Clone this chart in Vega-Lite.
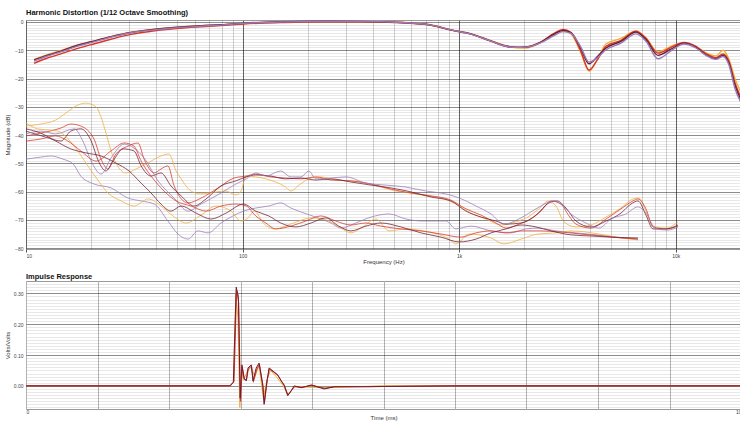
{
"$schema": "https://vega.github.io/schema/vega-lite/v6.json",
"background": "white",
"padding": {"left": 3, "top": 8, "right": 0, "bottom": 0},
"config": {
 "font": "Liberation Sans",
 "view": {"stroke": "#999", "strokeWidth": 1},
 "axis": {"labelFontSize": 5, "titleFontSize": 6, "labelColor": "#444", "titleColor": "#333", "titleFontWeight": "normal", "domain": false, "ticks": false, "labelOverlap": false},
 "axisY": {"minExtent": 14, "maxExtent": 14, "labelPadding": 3, "titlePadding": 2},
 "axisX": {"labelPadding": 1, "titlePadding": 0},
 "title": {"fontSize": 7.5, "anchor": "start", "frame": "group", "fontWeight": "bold", "offset": 2, "color": "#111"},
 "concat": {"spacing": 7}
},
"datasets": {
"fr": [
{"m":"M1","f":10.9,"d":-13.2},{"m":"M1","f":12.3,"d":-11.8},{"m":"M1","f":14.5,"d":-10.1},{"m":"M1","f":17.0,"d":-8.3},{"m":"M1","f":20.0,"d":-7.0},{"m":"M1","f":24.7,"d":-5.2},{"m":"M1","f":30.5,"d":-3.6},{"m":"M1","f":37.8,"d":-2.7},{"m":"M1","f":46.7,"d":-2.0},{"m":"M1","f":64.3,"d":-1.3},{"m":"M1","f":79.5,"d":-1.0},{"m":"M1","f":101,"d":-0.5},{"m":"M1","f":150,"d":0},{"m":"M1","f":230,"d":0.2},{"m":"M1","f":352,"d":0.2},{"m":"M1","f":539,"d":-0.1},{"m":"M1","f":741,"d":-1.0},{"m":"M1","f":916,"d":-2.7},{"m":"M1","f":1133,"d":-4.1},{"m":"M1","f":1402,"d":-6.6},{"m":"M1","f":1645,"d":-8.4},{"m":"M1","f":1829,"d":-9.1},{"m":"M1","f":2034,"d":-9.2},{"m":"M1","f":2386,"d":-7.2},{"m":"M1","f":2740,"d":-4.4},{"m":"M1","f":3015,"d":-3.0},{"m":"M1","f":3282,"d":-4.2},{"m":"M1","f":3650,"d":-11.0},{"m":"M1","f":3974,"d":-17.4},{"m":"M1","f":4326,"d":-13.5},{"m":"M1","f":4761,"d":-7.8},{"m":"M1","f":5583,"d":-5.8},{"m":"M1","f":6548,"d":-3.3},{"m":"M1","f":7282,"d":-5.6},{"m":"M1","f":8274,"d":-10.6},{"m":"M1","f":9500,"d":-8.6},{"m":"M1","f":10906,"d":-7.3},{"m":"M1","f":12391,"d":-8.7},{"m":"M1","f":13780,"d":-10.9},{"m":"M1","f":15325,"d":-12.0},{"m":"M1","f":16510,"d":-10.0},{"m":"M1","f":17595,"d":-13.2},{"m":"M1","f":18753,"d":-20.0},{"m":"M1","f":19988,"d":-25.0},
{"m":"M2","f":10.9,"d":-14.6},{"m":"M2","f":12.3,"d":-13.0},{"m":"M2","f":14.5,"d":-11.3},{"m":"M2","f":17.0,"d":-9.5},{"m":"M2","f":20.0,"d":-8.0},{"m":"M2","f":24.7,"d":-6.1},{"m":"M2","f":30.5,"d":-4.4},{"m":"M2","f":37.8,"d":-3.3},{"m":"M2","f":46.7,"d":-2.5},{"m":"M2","f":64.3,"d":-1.7},{"m":"M2","f":79.5,"d":-1.3},{"m":"M2","f":101,"d":-0.7},{"m":"M2","f":150,"d":-0.2},{"m":"M2","f":230,"d":0.1},{"m":"M2","f":352,"d":0.1},{"m":"M2","f":539,"d":-0.3},{"m":"M2","f":741,"d":-1.2},{"m":"M2","f":916,"d":-2.9},{"m":"M2","f":1133,"d":-4.3},{"m":"M2","f":1402,"d":-6.7},{"m":"M2","f":1645,"d":-8.5},{"m":"M2","f":1829,"d":-8.9},{"m":"M2","f":2034,"d":-8.8},{"m":"M2","f":2386,"d":-7.0},{"m":"M2","f":2740,"d":-4.0},{"m":"M2","f":3015,"d":-2.6},{"m":"M2","f":3282,"d":-3.7},{"m":"M2","f":3650,"d":-10.5},{"m":"M2","f":3974,"d":-17.0},{"m":"M2","f":4326,"d":-13.6},{"m":"M2","f":4761,"d":-8.6},{"m":"M2","f":5583,"d":-6.5},{"m":"M2","f":6548,"d":-3.3},{"m":"M2","f":7282,"d":-5.8},{"m":"M2","f":8274,"d":-11.0},{"m":"M2","f":9500,"d":-9.0},{"m":"M2","f":10906,"d":-7.2},{"m":"M2","f":12391,"d":-8.6},{"m":"M2","f":13780,"d":-11.2},{"m":"M2","f":15325,"d":-12.6},{"m":"M2","f":16510,"d":-11.3},{"m":"M2","f":17595,"d":-14.0},{"m":"M2","f":18753,"d":-21.5},{"m":"M2","f":19988,"d":-26.8},
{"m":"M3","f":10.9,"d":-13.4},{"m":"M3","f":12.3,"d":-12.0},{"m":"M3","f":14.5,"d":-10.3},{"m":"M3","f":17.0,"d":-8.4},{"m":"M3","f":20.0,"d":-7.0},{"m":"M3","f":24.7,"d":-5.2},{"m":"M3","f":30.5,"d":-3.7},{"m":"M3","f":37.8,"d":-2.7},{"m":"M3","f":46.7,"d":-2.0},{"m":"M3","f":64.3,"d":-1.3},{"m":"M3","f":79.5,"d":-1.0},{"m":"M3","f":101,"d":-0.4},{"m":"M3","f":150,"d":0.1},{"m":"M3","f":230,"d":0.3},{"m":"M3","f":352,"d":0.2},{"m":"M3","f":539,"d":-0.2},{"m":"M3","f":741,"d":-1.1},{"m":"M3","f":916,"d":-2.8},{"m":"M3","f":1133,"d":-4.2},{"m":"M3","f":1402,"d":-6.8},{"m":"M3","f":1645,"d":-8.6},{"m":"M3","f":1829,"d":-9.0},{"m":"M3","f":2034,"d":-8.9},{"m":"M3","f":2386,"d":-7.1},{"m":"M3","f":2740,"d":-4.3},{"m":"M3","f":3015,"d":-3.0},{"m":"M3","f":3282,"d":-3.8},{"m":"M3","f":3650,"d":-9.5},{"m":"M3","f":3974,"d":-14.8},{"m":"M3","f":4326,"d":-12.4},{"m":"M3","f":4761,"d":-9.2},{"m":"M3","f":5583,"d":-6.9},{"m":"M3","f":6548,"d":-3.6},{"m":"M3","f":7282,"d":-6.2},{"m":"M3","f":8274,"d":-11.8},{"m":"M3","f":9500,"d":-9.6},{"m":"M3","f":10906,"d":-7.5},{"m":"M3","f":12391,"d":-9.0},{"m":"M3","f":13780,"d":-11.6},{"m":"M3","f":15325,"d":-13.0},{"m":"M3","f":16510,"d":-11.8},{"m":"M3","f":17595,"d":-14.5},{"m":"M3","f":18753,"d":-22.4},{"m":"M3","f":19988,"d":-27.6},
{"m":"M4","f":10.9,"d":-13.8},{"m":"M4","f":12.3,"d":-12.3},{"m":"M4","f":14.5,"d":-10.6},{"m":"M4","f":17.0,"d":-8.7},{"m":"M4","f":20.0,"d":-7.3},{"m":"M4","f":24.7,"d":-5.4},{"m":"M4","f":30.5,"d":-3.8},{"m":"M4","f":37.8,"d":-2.9},{"m":"M4","f":46.7,"d":-2.2},{"m":"M4","f":64.3,"d":-1.5},{"m":"M4","f":79.5,"d":-1.1},{"m":"M4","f":101,"d":-0.5},{"m":"M4","f":150,"d":0},{"m":"M4","f":230,"d":0.2},{"m":"M4","f":352,"d":0.2},{"m":"M4","f":539,"d":-0.2},{"m":"M4","f":741,"d":-1.1},{"m":"M4","f":916,"d":-2.8},{"m":"M4","f":1133,"d":-4.3},{"m":"M4","f":1402,"d":-6.8},{"m":"M4","f":1645,"d":-8.6},{"m":"M4","f":1829,"d":-9.0},{"m":"M4","f":2034,"d":-8.9},{"m":"M4","f":2386,"d":-7.3},{"m":"M4","f":2740,"d":-4.8},{"m":"M4","f":3015,"d":-3.4},{"m":"M4","f":3282,"d":-4.0},{"m":"M4","f":3650,"d":-9.0},{"m":"M4","f":3974,"d":-14.2},{"m":"M4","f":4326,"d":-12.8},{"m":"M4","f":4761,"d":-9.8},{"m":"M4","f":5583,"d":-7.5},{"m":"M4","f":6548,"d":-4.2},{"m":"M4","f":7282,"d":-6.8},{"m":"M4","f":8274,"d":-13.0},{"m":"M4","f":9500,"d":-10.2},{"m":"M4","f":10906,"d":-7.8},{"m":"M4","f":12391,"d":-9.2},{"m":"M4","f":13780,"d":-11.8},{"m":"M4","f":15325,"d":-13.2},{"m":"M4","f":16510,"d":-12.2},{"m":"M4","f":17595,"d":-15.2},{"m":"M4","f":18753,"d":-23.5},{"m":"M4","f":19988,"d":-28.5}
],
"hd": [
{"m":"M1","h":"H2","f":10,"d":-36.8},{"m":"M1","h":"H2","f":11.7,"d":-36.1},{"m":"M1","h":"H2","f":13.7,"d":-34.7},{"m":"M1","h":"H2","f":15.3,"d":-32.2},{"m":"M1","h":"H2","f":17.0,"d":-29.7},{"m":"M1","h":"H2","f":18.9,"d":-28.7},{"m":"M1","h":"H2","f":21.1,"d":-30.1},{"m":"M1","h":"H2","f":22.2,"d":-33.6},{"m":"M1","h":"H2","f":23.4,"d":-39.3},{"m":"M1","h":"H2","f":24.7,"d":-45.6},{"m":"M1","h":"H2","f":26.0,"d":-49.9},{"m":"M1","h":"H2","f":29.0,"d":-53.4},{"m":"M1","h":"H2","f":32.2,"d":-52.0},{"m":"M1","h":"H2","f":35.9,"d":-50.2},{"m":"M1","h":"H2","f":42.0,"d":-47.4},{"m":"M1","h":"H2","f":45.7,"d":-46.7},{"m":"M1","h":"H2","f":49.3,"d":-52.7},{"m":"M1","h":"H2","f":52.0,"d":-55.5},{"m":"M1","h":"H2","f":57.8,"d":-59.8},{"m":"M1","h":"H2","f":64.3,"d":-60.8},{"m":"M1","h":"H2","f":75.4,"d":-60.1},{"m":"M1","h":"H2","f":83.8,"d":-59.8},{"m":"M1","h":"H2","f":93.2,"d":-61.2},{"m":"M1","h":"H2","f":98.3,"d":-59.8},{"m":"M1","h":"H2","f":104,"d":-54.5},{"m":"M1","h":"H2","f":115,"d":-54.8},{"m":"M1","h":"H2","f":128,"d":-55.5},{"m":"M1","h":"H2","f":142,"d":-56.6},{"m":"M1","h":"H2","f":158,"d":-58.4},{"m":"M1","h":"H2","f":167,"d":-59.8},{"m":"M1","h":"H2","f":182,"d":-57.7},{"m":"M1","h":"H2","f":207,"d":-55.2},{"m":"M1","h":"H2","f":230,"d":-54.8},{"m":"M1","h":"H2","f":269,"d":-55.9},{"m":"M1","h":"H2","f":316,"d":-56.2},{"m":"M1","h":"H2","f":371,"d":-57.0},{"m":"M1","h":"H2","f":435,"d":-58.4},{"m":"M1","h":"H2","f":510,"d":-59.8},{"m":"M1","h":"H2","f":599,"d":-60.5},{"m":"M1","h":"H2","f":702,"d":-61.5},{"m":"M1","h":"H2","f":824,"d":-62.3},{"m":"M1","h":"H2","f":966,"d":-64.4},{"m":"M1","h":"H2","f":1133,"d":-67.6},{"m":"M1","h":"H2","f":1329,"d":-69.7},{"m":"M1","h":"H2","f":1560,"d":-71.8},{"m":"M1","h":"H2","f":1829,"d":-70.7},{"m":"M1","h":"H2","f":2145,"d":-68.3},{"m":"M1","h":"H2","f":2386,"d":-65.4},{"m":"M1","h":"H2","f":2570,"d":-63.3},{"m":"M1","h":"H2","f":2798,"d":-65.1},{"m":"M1","h":"H2","f":3047,"d":-70.7},{"m":"M1","h":"H2","f":3461,"d":-72.5},{"m":"M1","h":"H2","f":4058,"d":-71.8},{"m":"M1","h":"H2","f":4761,"d":-69.0},{"m":"M1","h":"H2","f":5583,"d":-65.8},{"m":"M1","h":"H2","f":6344,"d":-62.6},{"m":"M1","h":"H2","f":6760,"d":-62.3},{"m":"M1","h":"H2","f":7282,"d":-66.9},{"m":"M1","h":"H2","f":7850,"d":-72.2},{"m":"M1","h":"H2","f":9007,"d":-72.9},{"m":"M1","h":"H2","f":10239,"d":-70.7},
{"m":"M2","h":"H2","f":10,"d":-40.3},{"m":"M2","h":"H2","f":11.7,"d":-39.3},{"m":"M2","h":"H2","f":14.5,"d":-37.5},{"m":"M2","h":"H2","f":16.1,"d":-36.1},{"m":"M2","h":"H2","f":17.9,"d":-36.8},{"m":"M2","h":"H2","f":20.6,"d":-41.4},{"m":"M2","h":"H2","f":22.2,"d":-48.5},{"m":"M2","h":"H2","f":23.9,"d":-52.0},{"m":"M2","h":"H2","f":26.0,"d":-46.7},{"m":"M2","h":"H2","f":29.6,"d":-43.9},{"m":"M2","h":"H2","f":32.9,"d":-42.8},{"m":"M2","h":"H2","f":35.1,"d":-48.5},{"m":"M2","h":"H2","f":39.1,"d":-53.4},{"m":"M2","h":"H2","f":42.0,"d":-52.0},{"m":"M2","h":"H2","f":45.2,"d":-50.9},{"m":"M2","h":"H2","f":48.3,"d":-58.0},{"m":"M2","h":"H2","f":56.0,"d":-64.0},{"m":"M2","h":"H2","f":64.3,"d":-62.3},{"m":"M2","h":"H2","f":77.0,"d":-58.7},{"m":"M2","h":"H2","f":91.3,"d":-55.2},{"m":"M2","h":"H2","f":104,"d":-54.5},{"m":"M2","h":"H2","f":115,"d":-53.8},{"m":"M2","h":"H2","f":135,"d":-54.8},{"m":"M2","h":"H2","f":158,"d":-55.2},{"m":"M2","h":"H2","f":186,"d":-55.5},{"m":"M2","h":"H2","f":218,"d":-54.8},{"m":"M2","h":"H2","f":256,"d":-55.9},{"m":"M2","h":"H2","f":316,"d":-56.2},{"m":"M2","h":"H2","f":392,"d":-57.3},{"m":"M2","h":"H2","f":484,"d":-59.1},{"m":"M2","h":"H2","f":599,"d":-60.5},{"m":"M2","h":"H2","f":741,"d":-61.5},{"m":"M2","h":"H2","f":916,"d":-63.0},{"m":"M2","h":"H2","f":1075,"d":-66.1},{"m":"M2","h":"H2","f":1261,"d":-68.3},{"m":"M2","h":"H2","f":1478,"d":-71.1},{"m":"M2","h":"H2","f":1645,"d":-72.9},{"m":"M2","h":"H2","f":1889,"d":-71.5},{"m":"M2","h":"H2","f":2145,"d":-69.7},{"m":"M2","h":"H2","f":2386,"d":-66.9},{"m":"M2","h":"H2","f":2653,"d":-63.3},{"m":"M2","h":"H2","f":2951,"d":-64.4},{"m":"M2","h":"H2","f":3212,"d":-68.6},{"m":"M2","h":"H2","f":3461,"d":-71.5},{"m":"M2","h":"H2","f":4058,"d":-72.9},{"m":"M2","h":"H2","f":4761,"d":-69.7},{"m":"M2","h":"H2","f":5583,"d":-66.1},{"m":"M2","h":"H2","f":6344,"d":-63.3},{"m":"M2","h":"H2","f":6690,"d":-62.6},{"m":"M2","h":"H2","f":7282,"d":-66.1},{"m":"M2","h":"H2","f":7850,"d":-72.5},{"m":"M2","h":"H2","f":9007,"d":-73.2},{"m":"M2","h":"H2","f":10239,"d":-72.2},
{"m":"M3","h":"H2","f":10,"d":-38.6},{"m":"M3","h":"H2","f":12.3,"d":-40.7},{"m":"M3","h":"H2","f":14.5,"d":-42.1},{"m":"M3","h":"H2","f":16.1,"d":-38.6},{"m":"M3","h":"H2","f":17.9,"d":-37.8},{"m":"M3","h":"H2","f":20.0,"d":-42.1},{"m":"M3","h":"H2","f":21.6,"d":-49.2},{"m":"M3","h":"H2","f":23.4,"d":-52.7},{"m":"M3","h":"H2","f":25.2,"d":-49.2},{"m":"M3","h":"H2","f":28.1,"d":-44.9},{"m":"M3","h":"H2","f":31.5,"d":-45.6},{"m":"M3","h":"H2","f":34.0,"d":-50.9},{"m":"M3","h":"H2","f":37.8,"d":-54.5},{"m":"M3","h":"H2","f":42.0,"d":-53.4},{"m":"M3","h":"H2","f":46.7,"d":-58.0},{"m":"M3","h":"H2","f":52.0,"d":-61.5},{"m":"M3","h":"H2","f":59.7,"d":-65.1},{"m":"M3","h":"H2","f":67.8,"d":-62.6},{"m":"M3","h":"H2","f":79.5,"d":-58.0},{"m":"M3","h":"H2","f":93.2,"d":-56.2},{"m":"M3","h":"H2","f":104,"d":-54.8},{"m":"M3","h":"H2","f":115,"d":-54.1},{"m":"M3","h":"H2","f":135,"d":-54.5},{"m":"M3","h":"H2","f":158,"d":-55.5},{"m":"M3","h":"H2","f":186,"d":-55.2},{"m":"M3","h":"H2","f":218,"d":-55.9},{"m":"M3","h":"H2","f":256,"d":-55.5},{"m":"M3","h":"H2","f":316,"d":-56.6},{"m":"M3","h":"H2","f":392,"d":-57.7},{"m":"M3","h":"H2","f":484,"d":-58.7},{"m":"M3","h":"H2","f":599,"d":-60.1},{"m":"M3","h":"H2","f":741,"d":-61.9},{"m":"M3","h":"H2","f":916,"d":-63.3},{"m":"M3","h":"H2","f":1075,"d":-66.9},{"m":"M3","h":"H2","f":1261,"d":-69.0},{"m":"M3","h":"H2","f":1478,"d":-70.4},{"m":"M3","h":"H2","f":1645,"d":-71.5},{"m":"M3","h":"H2","f":1929,"d":-71.1},{"m":"M3","h":"H2","f":2262,"d":-68.3},{"m":"M3","h":"H2","f":2596,"d":-64.0},{"m":"M3","h":"H2","f":2828,"d":-63.3},{"m":"M3","h":"H2","f":3112,"d":-65.8},{"m":"M3","h":"H2","f":3461,"d":-70.4},{"m":"M3","h":"H2","f":4058,"d":-72.5},{"m":"M3","h":"H2","f":4761,"d":-70.4},{"m":"M3","h":"H2","f":5583,"d":-67.6},{"m":"M3","h":"H2","f":6209,"d":-64.4},{"m":"M3","h":"H2","f":6690,"d":-63.3},{"m":"M3","h":"H2","f":7282,"d":-68.3},{"m":"M3","h":"H2","f":7850,"d":-73.2},{"m":"M3","h":"H2","f":9007,"d":-73.2},{"m":"M3","h":"H2","f":10239,"d":-71.8},
{"m":"M4","h":"H2","f":10,"d":-39.6},{"m":"M4","h":"H2","f":11.7,"d":-38.6},{"m":"M4","h":"H2","f":13.7,"d":-39.6},{"m":"M4","h":"H2","f":16.7,"d":-37.8},{"m":"M4","h":"H2","f":18.3,"d":-42.1},{"m":"M4","h":"H2","f":20.0,"d":-49.2},{"m":"M4","h":"H2","f":22.2,"d":-53.8},{"m":"M4","h":"H2","f":24.7,"d":-48.1},{"m":"M4","h":"H2","f":28.4,"d":-43.2},{"m":"M4","h":"H2","f":31.5,"d":-44.6},{"m":"M4","h":"H2","f":35.1,"d":-48.1},{"m":"M4","h":"H2","f":40.7,"d":-56.2},{"m":"M4","h":"H2","f":48.3,"d":-62.3},{"m":"M4","h":"H2","f":56.0,"d":-66.9},{"m":"M4","h":"H2","f":64.3,"d":-64.4},{"m":"M4","h":"H2","f":79.5,"d":-60.5},{"m":"M4","h":"H2","f":93.2,"d":-57.3},{"m":"M4","h":"H2","f":104,"d":-55.5},{"m":"M4","h":"H2","f":115,"d":-53.4},{"m":"M4","h":"H2","f":128,"d":-54.5},{"m":"M4","h":"H2","f":150,"d":-52.7},{"m":"M4","h":"H2","f":167,"d":-54.8},{"m":"M4","h":"H2","f":186,"d":-54.8},{"m":"M4","h":"H2","f":202,"d":-52.7},{"m":"M4","h":"H2","f":218,"d":-55.5},{"m":"M4","h":"H2","f":256,"d":-55.2},{"m":"M4","h":"H2","f":300,"d":-54.8},{"m":"M4","h":"H2","f":371,"d":-57.0},{"m":"M4","h":"H2","f":459,"d":-57.7},{"m":"M4","h":"H2","f":568,"d":-58.4},{"m":"M4","h":"H2","f":702,"d":-59.8},{"m":"M4","h":"H2","f":824,"d":-60.5},{"m":"M4","h":"H2","f":936,"d":-61.5},{"m":"M4","h":"H2","f":1075,"d":-63.3},{"m":"M4","h":"H2","f":1195,"d":-65.1},{"m":"M4","h":"H2","f":1402,"d":-67.9},{"m":"M4","h":"H2","f":1610,"d":-71.5},{"m":"M4","h":"H2","f":1929,"d":-69.3},{"m":"M4","h":"H2","f":2262,"d":-66.1},{"m":"M4","h":"H2","f":2740,"d":-63.3},{"m":"M4","h":"H2","f":3015,"d":-65.1},{"m":"M4","h":"H2","f":3282,"d":-67.9},{"m":"M4","h":"H2","f":3849,"d":-71.1},{"m":"M4","h":"H2","f":4419,"d":-72.9},{"m":"M4","h":"H2","f":5020,"d":-69.7},{"m":"M4","h":"H2","f":5888,"d":-67.9},{"m":"M4","h":"H2","f":6690,"d":-65.4},{"m":"M4","h":"H2","f":7282,"d":-67.6},{"m":"M4","h":"H2","f":8100,"d":-73.2},{"m":"M4","h":"H2","f":9203,"d":-73.6},{"m":"M4","h":"H2","f":10239,"d":-72.5},
{"m":"M4","h":"H3","f":10,"d":-48.5},{"m":"M4","h":"H3","f":11.7,"d":-47.8},{"m":"M4","h":"H3","f":13.0,"d":-47.4},{"m":"M4","h":"H3","f":14.8,"d":-48.5},{"m":"M4","h":"H3","f":16.5,"d":-50.2},{"m":"M4","h":"H3","f":17.9,"d":-54.5},{"m":"M4","h":"H3","f":20.6,"d":-57.3},{"m":"M4","h":"H3","f":24.7,"d":-58.7},{"m":"M4","h":"H3","f":29.6,"d":-62.3},{"m":"M4","h":"H3","f":34.0,"d":-63.3},{"m":"M4","h":"H3","f":39.1,"d":-64.4},{"m":"M4","h":"H3","f":45.2,"d":-70.4},{"m":"M4","h":"H3","f":50.3,"d":-75.0},{"m":"M4","h":"H3","f":56.0,"d":-76.8},{"m":"M4","h":"H3","f":62.3,"d":-73.9},{"m":"M4","h":"H3","f":69.3,"d":-74.6},{"m":"M4","h":"H3","f":79.5,"d":-71.1},{"m":"M4","h":"H3","f":90.3,"d":-68.6},{"m":"M4","h":"H3","f":101,"d":-66.9},{"m":"M4","h":"H3","f":115,"d":-65.8},{"m":"M4","h":"H3","f":132,"d":-65.1},{"m":"M4","h":"H3","f":150,"d":-64.0},{"m":"M4","h":"H3","f":167,"d":-65.8},{"m":"M4","h":"H3","f":186,"d":-67.2},{"m":"M4","h":"H3","f":223,"d":-69.3},{"m":"M4","h":"H3","f":256,"d":-71.1},{"m":"M4","h":"H3","f":285,"d":-72.9},{"m":"M4","h":"H3","f":333,"d":-71.1},{"m":"M4","h":"H3","f":392,"d":-69.0},{"m":"M4","h":"H3","f":474,"d":-67.9},{"m":"M4","h":"H3","f":568,"d":-69.7},{"m":"M4","h":"H3","f":681,"d":-70.4},{"m":"M4","h":"H3","f":869,"d":-70.4},{"m":"M4","h":"H3","f":966,"d":-73.2},{"m":"M4","h":"H3","f":1133,"d":-72.2},{"m":"M4","h":"H3","f":1402,"d":-73.9},{"m":"M4","h":"H3","f":1734,"d":-74.6},{"m":"M4","h":"H3","f":2034,"d":-73.2},{"m":"M4","h":"H3","f":2311,"d":-72.9},{"m":"M4","h":"H3","f":2798,"d":-73.9},{"m":"M4","h":"H3","f":3461,"d":-74.6},{"m":"M4","h":"H3","f":4280,"d":-75.3},{"m":"M4","h":"H3","f":5294,"d":-76.1},{"m":"M4","h":"H3","f":6690,"d":-76.8},
{"m":"M1","h":"H3","f":10,"d":-35.7},{"m":"M1","h":"H3","f":11.3,"d":-37.8},{"m":"M1","h":"H3","f":14.0,"d":-38.6},{"m":"M1","h":"H3","f":16.7,"d":-43.9},{"m":"M1","h":"H3","f":19.3,"d":-50.9},{"m":"M1","h":"H3","f":21.6,"d":-56.2},{"m":"M1","h":"H3","f":23.9,"d":-60.5},{"m":"M1","h":"H3","f":27.5,"d":-63.3},{"m":"M1","h":"H3","f":31.5,"d":-65.1},{"m":"M1","h":"H3","f":36.7,"d":-62.6},{"m":"M1","h":"H3","f":42.0,"d":-65.1},{"m":"M1","h":"H3","f":47.7,"d":-68.6},{"m":"M1","h":"H3","f":54.8,"d":-71.1},{"m":"M1","h":"H3","f":64.3,"d":-68.3},{"m":"M1","h":"H3","f":75.4,"d":-65.1},{"m":"M1","h":"H3","f":88.4,"d":-66.9},{"m":"M1","h":"H3","f":98.3,"d":-70.4},{"m":"M1","h":"H3","f":106,"d":-69.3},{"m":"M1","h":"H3","f":113,"d":-66.9},{"m":"M1","h":"H3","f":126,"d":-71.5},{"m":"M1","h":"H3","f":140,"d":-73.2},{"m":"M1","h":"H3","f":172,"d":-71.1},{"m":"M1","h":"H3","f":207,"d":-69.3},{"m":"M1","h":"H3","f":237,"d":-69.7},{"m":"M1","h":"H3","f":285,"d":-72.9},{"m":"M1","h":"H3","f":316,"d":-74.6},{"m":"M1","h":"H3","f":352,"d":-72.9},{"m":"M1","h":"H3","f":413,"d":-69.7},{"m":"M1","h":"H3","f":474,"d":-73.9},{"m":"M1","h":"H3","f":568,"d":-73.2},{"m":"M1","h":"H3","f":681,"d":-73.9},{"m":"M1","h":"H3","f":897,"d":-76.8},{"m":"M1","h":"H3","f":966,"d":-78.5},{"m":"M1","h":"H3","f":1110,"d":-75.0},{"m":"M1","h":"H3","f":1402,"d":-76.4},{"m":"M1","h":"H3","f":1610,"d":-78.5},{"m":"M1","h":"H3","f":1929,"d":-76.8},{"m":"M1","h":"H3","f":2311,"d":-75.0},{"m":"M1","h":"H3","f":2798,"d":-74.6},{"m":"M1","h":"H3","f":3282,"d":-73.9},{"m":"M1","h":"H3","f":4419,"d":-75.0},{"m":"M1","h":"H3","f":5294,"d":-76.1},{"m":"M1","h":"H3","f":6690,"d":-77.1},
{"m":"M2","h":"H3","f":10,"d":-42.1},{"m":"M2","h":"H3","f":11.7,"d":-41.4},{"m":"M2","h":"H3","f":13.7,"d":-40.3},{"m":"M2","h":"H3","f":15.6,"d":-42.1},{"m":"M2","h":"H3","f":17.9,"d":-45.6},{"m":"M2","h":"H3","f":21.1,"d":-49.2},{"m":"M2","h":"H3","f":24.7,"d":-45.6},{"m":"M2","h":"H3","f":28.4,"d":-42.8},{"m":"M2","h":"H3","f":31.5,"d":-43.9},{"m":"M2","h":"H3","f":34.0,"d":-49.2},{"m":"M2","h":"H3","f":37.8,"d":-54.5},{"m":"M2","h":"H3","f":43.4,"d":-59.8},{"m":"M2","h":"H3","f":49.3,"d":-63.3},{"m":"M2","h":"H3","f":57.8,"d":-65.1},{"m":"M2","h":"H3","f":67.8,"d":-66.9},{"m":"M2","h":"H3","f":79.5,"d":-65.1},{"m":"M2","h":"H3","f":93.2,"d":-64.4},{"m":"M2","h":"H3","f":104,"d":-65.1},{"m":"M2","h":"H3","f":115,"d":-68.6},{"m":"M2","h":"H3","f":128,"d":-71.1},{"m":"M2","h":"H3","f":142,"d":-73.2},{"m":"M2","h":"H3","f":167,"d":-72.2},{"m":"M2","h":"H3","f":196,"d":-70.4},{"m":"M2","h":"H3","f":230,"d":-68.6},{"m":"M2","h":"H3","f":269,"d":-70.4},{"m":"M2","h":"H3","f":316,"d":-71.8},{"m":"M2","h":"H3","f":371,"d":-71.1},{"m":"M2","h":"H3","f":435,"d":-72.2},{"m":"M2","h":"H3","f":539,"d":-73.2},{"m":"M2","h":"H3","f":666,"d":-73.9},{"m":"M2","h":"H3","f":824,"d":-75.0},{"m":"M2","h":"H3","f":1019,"d":-76.1},{"m":"M2","h":"H3","f":1195,"d":-74.6},{"m":"M2","h":"H3","f":1402,"d":-73.9},{"m":"M2","h":"H3","f":1645,"d":-74.6},{"m":"M2","h":"H3","f":1929,"d":-73.9},{"m":"M2","h":"H3","f":2386,"d":-73.9},{"m":"M2","h":"H3","f":2951,"d":-74.3},{"m":"M2","h":"H3","f":3650,"d":-75.0},{"m":"M2","h":"H3","f":4514,"d":-75.7},{"m":"M2","h":"H3","f":5583,"d":-76.4},{"m":"M2","h":"H3","f":6690,"d":-76.8},
{"m":"M3","h":"H3","f":10,"d":-37.8},{"m":"M3","h":"H3","f":11.7,"d":-39.3},{"m":"M3","h":"H3","f":13.7,"d":-42.1},{"m":"M3","h":"H3","f":16.1,"d":-44.9},{"m":"M3","h":"H3","f":18.9,"d":-46.3},{"m":"M3","h":"H3","f":22.2,"d":-47.4},{"m":"M3","h":"H3","f":26.0,"d":-49.9},{"m":"M3","h":"H3","f":29.9,"d":-52.7},{"m":"M3","h":"H3","f":34.0,"d":-57.0},{"m":"M3","h":"H3","f":37.8,"d":-60.5},{"m":"M3","h":"H3","f":42.0,"d":-64.4},{"m":"M3","h":"H3","f":46.7,"d":-66.9},{"m":"M3","h":"H3","f":52.0,"d":-65.1},{"m":"M3","h":"H3","f":61.0,"d":-67.6},{"m":"M3","h":"H3","f":71.5,"d":-69.7},{"m":"M3","h":"H3","f":83.8,"d":-67.6},{"m":"M3","h":"H3","f":101,"d":-64.4},{"m":"M3","h":"H3","f":115,"d":-66.9},{"m":"M3","h":"H3","f":132,"d":-68.6},{"m":"M3","h":"H3","f":150,"d":-71.1},{"m":"M3","h":"H3","f":176,"d":-72.5},{"m":"M3","h":"H3","f":207,"d":-71.1},{"m":"M3","h":"H3","f":242,"d":-69.3},{"m":"M3","h":"H3","f":278,"d":-72.2},{"m":"M3","h":"H3","f":316,"d":-73.9},{"m":"M3","h":"H3","f":371,"d":-72.2},{"m":"M3","h":"H3","f":435,"d":-71.1},{"m":"M3","h":"H3","f":539,"d":-72.5},{"m":"M3","h":"H3","f":666,"d":-74.6},{"m":"M3","h":"H3","f":824,"d":-76.1},{"m":"M3","h":"H3","f":998,"d":-77.8},{"m":"M3","h":"H3","f":1195,"d":-76.8},{"m":"M3","h":"H3","f":1402,"d":-74.6},{"m":"M3","h":"H3","f":1645,"d":-73.2},{"m":"M3","h":"H3","f":1929,"d":-71.8},{"m":"M3","h":"H3","f":2262,"d":-72.5},{"m":"M3","h":"H3","f":2653,"d":-73.9},{"m":"M3","h":"H3","f":3282,"d":-75.3},{"m":"M3","h":"H3","f":4058,"d":-75.7},{"m":"M3","h":"H3","f":5020,"d":-76.1},{"m":"M3","h":"H3","f":6690,"d":-76.4}
],
"ir": [
{"m":"M1","t":0,"v":0},{"m":"M1","t":2.85,"v":0},{"m":"M1","t":2.9,"v":0.01},{"m":"M1","t":2.935,"v":0.3},{"m":"M1","t":2.965,"v":0.22},{"m":"M1","t":2.99,"v":-0.07},{"m":"M1","t":3.015,"v":0.05},{"m":"M1","t":3.045,"v":0.02},{"m":"M1","t":3.1,"v":0.05},{"m":"M1","t":3.15,"v":0.06},{"m":"M1","t":3.2,"v":0.03},{"m":"M1","t":3.26,"v":0.065},{"m":"M1","t":3.32,"v":-0.04},{"m":"M1","t":3.37,"v":0.02},{"m":"M1","t":3.42,"v":0.05},{"m":"M1","t":3.5,"v":0.03},{"m":"M1","t":3.6,"v":0.0},{"m":"M1","t":3.66,"v":-0.028},{"m":"M1","t":3.75,"v":-0.004},{"m":"M1","t":3.9,"v":-0.004},{"m":"M1","t":4.2,"v":-0.006},{"m":"M1","t":5.0,"v":0},{"m":"M1","t":10,"v":0},
{"m":"M2","t":0,"v":0},{"m":"M2","t":2.86,"v":0},{"m":"M2","t":2.91,"v":0.015},{"m":"M2","t":2.945,"v":0.31},{"m":"M2","t":2.975,"v":0.27},{"m":"M2","t":3.0,"v":-0.05},{"m":"M2","t":3.025,"v":0.06},{"m":"M2","t":3.055,"v":0.02},{"m":"M2","t":3.085,"v":0.02},{"m":"M2","t":3.11,"v":0.055},{"m":"M2","t":3.155,"v":0.064},{"m":"M2","t":3.18,"v":0.012},{"m":"M2","t":3.225,"v":0.052},{"m":"M2","t":3.265,"v":0.07},{"m":"M2","t":3.315,"v":0.0},{"m":"M2","t":3.335,"v":-0.055},{"m":"M2","t":3.375,"v":0.02},{"m":"M2","t":3.405,"v":0.055},{"m":"M2","t":3.46,"v":0.045},{"m":"M2","t":3.525,"v":0.033},{"m":"M2","t":3.575,"v":0.014},{"m":"M2","t":3.615,"v":0.0},{"m":"M2","t":3.665,"v":-0.03},{"m":"M2","t":3.715,"v":-0.014},{"m":"M2","t":3.76,"v":-0.002},{"m":"M2","t":3.86,"v":-0.005},{"m":"M2","t":4.0,"v":0.002},{"m":"M2","t":4.18,"v":-0.008},{"m":"M2","t":4.32,"v":-0.002},{"m":"M2","t":4.8,"v":-0.002},{"m":"M2","t":6.0,"v":0},{"m":"M2","t":10,"v":0},
{"m":"M3","t":0,"v":0},{"m":"M3","t":2.85,"v":0},{"m":"M3","t":2.9,"v":0.012},{"m":"M3","t":2.94,"v":0.32},{"m":"M3","t":2.97,"v":0.29},{"m":"M3","t":2.995,"v":-0.04},{"m":"M3","t":3.02,"v":0.068},{"m":"M3","t":3.05,"v":0.025},{"m":"M3","t":3.08,"v":0.016},{"m":"M3","t":3.105,"v":0.058},{"m":"M3","t":3.15,"v":0.068},{"m":"M3","t":3.175,"v":0.016},{"m":"M3","t":3.22,"v":0.058},{"m":"M3","t":3.26,"v":0.074},{"m":"M3","t":3.31,"v":0.003},{"m":"M3","t":3.33,"v":-0.06},{"m":"M3","t":3.37,"v":0.016},{"m":"M3","t":3.4,"v":0.058},{"m":"M3","t":3.455,"v":0.048},{"m":"M3","t":3.52,"v":0.036},{"m":"M3","t":3.57,"v":0.016},{"m":"M3","t":3.61,"v":0.003},{"m":"M3","t":3.66,"v":-0.032},{"m":"M3","t":3.71,"v":-0.016},{"m":"M3","t":3.75,"v":0},{"m":"M3","t":3.85,"v":-0.006},{"m":"M3","t":3.99,"v":0.003},{"m":"M3","t":4.17,"v":-0.01},{"m":"M3","t":4.31,"v":-0.003},{"m":"M3","t":4.78,"v":-0.003},{"m":"M3","t":5.0,"v":-0.002},{"m":"M3","t":6.0,"v":0},{"m":"M3","t":10,"v":0}
]
},
"vconcat": [
{
 "title": {"text": "Harmonic Distortion (1/12 Octave Smoothing)"},
 "width": 715, "height": 229,
 "encoding": {
  "x": {"field": "f", "type": "quantitative", "scale": {"type": "log", "domain": [10, 20000], "nice": false},
   "axis": {"title": "Frequency (Hz)",
    "values": [10,20,30,40,50,60,70,80,90,100,200,300,400,500,600,700,800,900,1000,2000,3000,4000,5000,6000,7000,8000,9000,10000,20000],
    "labelExpr": "datum.value==10?'10':datum.value==100?'100':datum.value==1000?'1k':datum.value==10000?'10k':''",
    "ticks": true, "tickSize": 3,
    "tickColor": {"condition": {"test": "indexof([10,100,1000,10000], datum.value) >= 0", "value": "#555"}, "value": "transparent"},
    "gridColor": {"condition": {"test": "indexof([10,100,1000,10000], datum.value) >= 0", "value": "#666"}, "value": "rgba(0,0,0,0.18)"}}},
  "y": {"field": "d", "type": "quantitative", "scale": {"domain": [-80.3, 0.7], "nice": false, "zero": false},
   "axis": {"title": "Magnitude (dB)",
    "values": [-80,-79,-78,-77,-76,-75,-74,-73,-72,-71,-70,-69,-68,-67,-66,-65,-64,-63,-62,-61,-60,-59,-58,-57,-56,-55,-54,-53,-52,-51,-50,-49,-48,-47,-46,-45,-44,-43,-42,-41,-40,-39,-38,-37,-36,-35,-34,-33,-32,-31,-30,-29,-28,-27,-26,-25,-24,-23,-22,-21,-20,-19,-18,-17,-16,-15,-14,-13,-12,-11,-10,-9,-8,-7,-6,-5,-4,-3,-2,-1,0],
    "labelExpr": "datum.value % 10 == 0 ? datum.label : ''",
    "gridColor": {"condition": {"test": "datum.value % 10 == 0", "value": "rgba(0,0,0,0.45)"}, "value": "rgba(0,0,0,0.09)"}}},
  "color": {"field": "m", "type": "nominal", "scale": {"domain": ["M1","M2","M3","M4"], "range": ["#efae3a","#d8362a","#6e1d33","#9a7ab8"]}, "legend": null},
  "detail": {"field": "h"}
 },
 "layer": [
  {"data": {"name": "hd"}, "mark": {"type": "line", "strokeWidth": 0.9, "opacity": 0.85, "interpolate": "monotone"}},
  {"data": {"name": "fr"}, "mark": {"type": "line", "strokeWidth": 1.4, "interpolate": "monotone"}}
 ]
},
{
 "title": {"text": "Impulse Response", "offset": 1},
 "width": 715, "height": 128,
 "data": {"name": "ir"},
 "mark": {"type": "line", "strokeWidth": 1},
 "encoding": {
  "x": {"field": "t", "type": "quantitative", "scale": {"domain": [0, 10], "nice": false},
   "axis": {"title": "Time (ms)", "values": [0,1,2,3,4,5,6,7,8,9,10], "labelFlush": true, "labelPadding": 0, "titlePadding": 0,
    "labelExpr": "datum.value==0||datum.value==10 ? datum.label : ''", "gridColor": "#b5b5b5"}},
  "y": {"field": "v", "type": "quantitative", "scale": {"domain": [-0.075, 0.34], "nice": false, "zero": false},
   "axis": {"title": "Volts/Volts",
    "values": [-0.07,-0.06,-0.05,-0.04,-0.03,-0.02,-0.01,0,0.01,0.02,0.03,0.04,0.05,0.06,0.07,0.08,0.09,0.1,0.11,0.12,0.13,0.14,0.15,0.16,0.17,0.18,0.19,0.2,0.21,0.22,0.23,0.24,0.25,0.26,0.27,0.28,0.29,0.3,0.31,0.32,0.33],
    "labelExpr": "abs(datum.value*10 - round(datum.value*10)) < 0.001 ? format(datum.value, '.2f') : ''",
    "gridColor": {"condition": {"test": "abs(datum.value*10 - round(datum.value*10)) < 0.001", "value": "rgba(0,0,0,0.45)"}, "value": "rgba(0,0,0,0.09)"}}},
  "color": {"field": "m", "type": "nominal", "legend": null}
 }
}
]
}
